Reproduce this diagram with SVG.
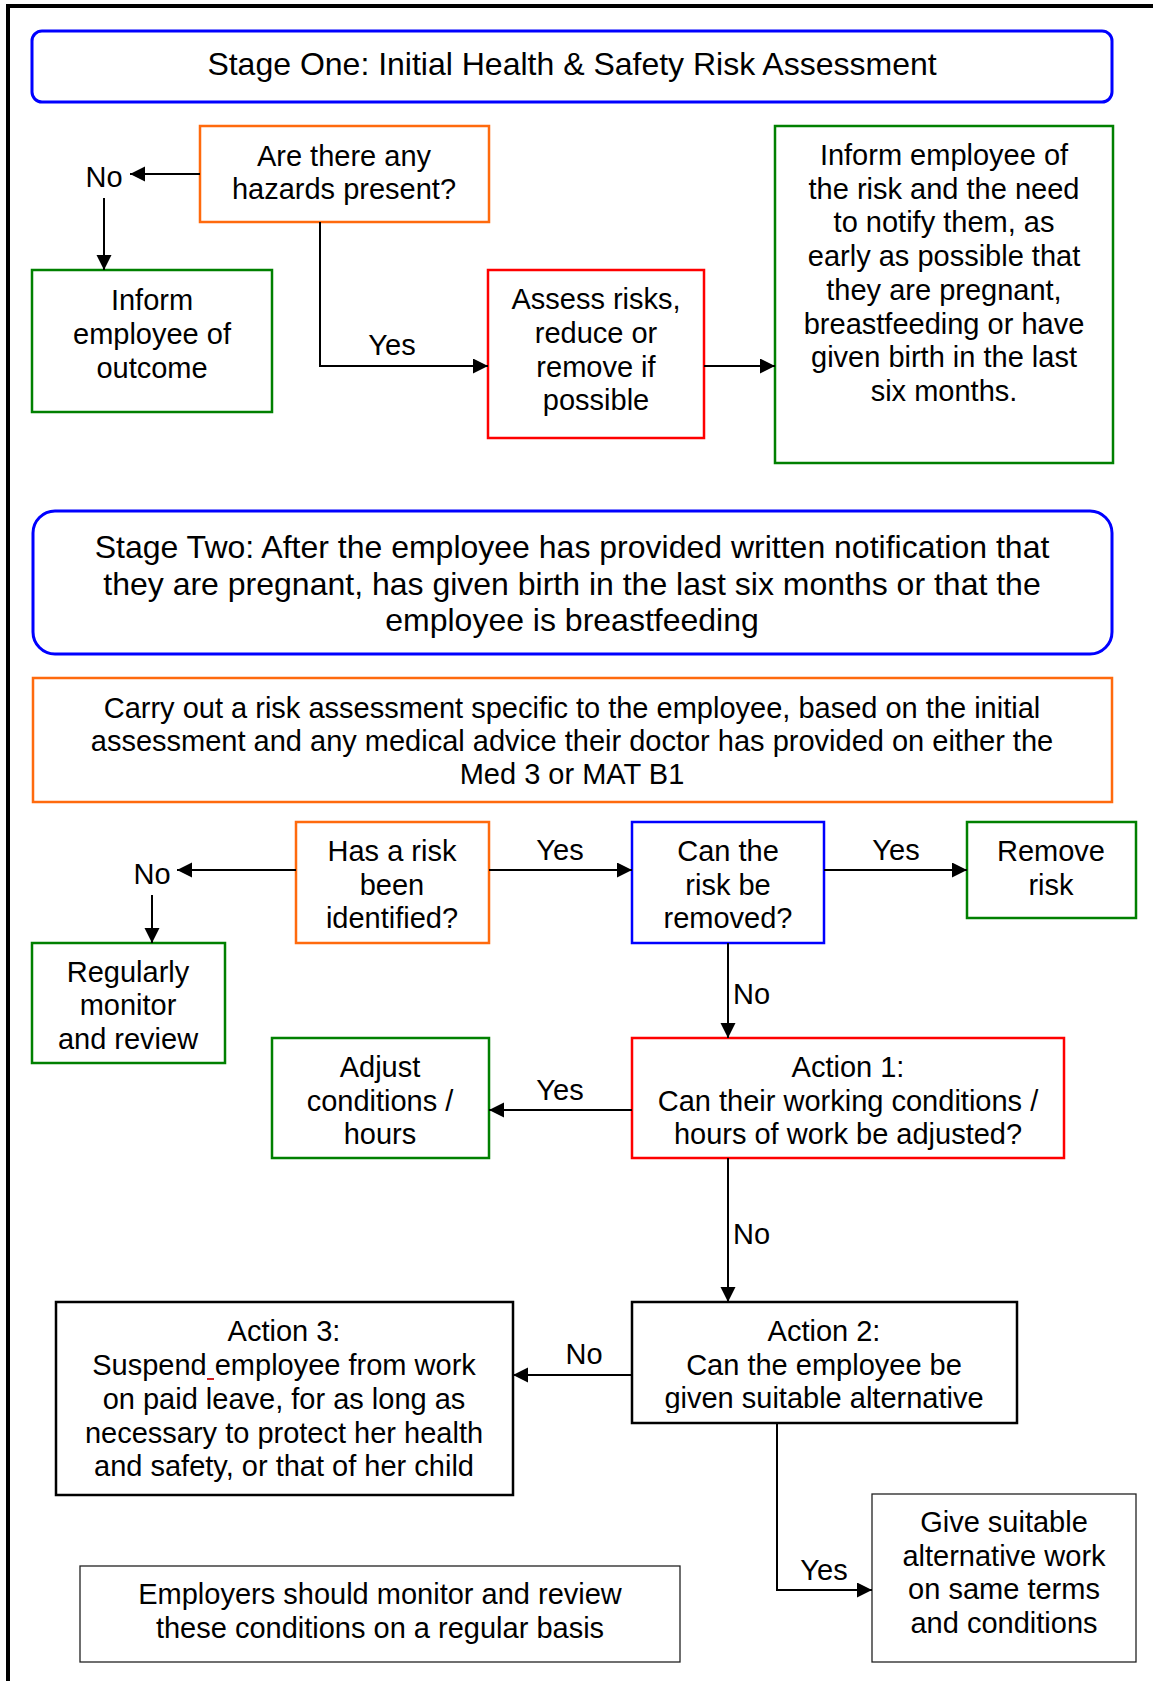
<svg xmlns="http://www.w3.org/2000/svg" width="1153" height="1681" viewBox="0 0 1153 1681">
  <style>
    text { font-family: "Liberation Sans", Arial, sans-serif; fill: #000; }
    .t { font-size: 29px; text-anchor: middle; }
    .h { font-size: 32px; text-anchor: middle; }
    .lbl { font-size: 29px; }
    .mid { text-anchor: middle; }
    .box { fill: #fff; stroke-width: 2.5; }
    .blue { stroke: #0000ff; }
    .orange { stroke: #ff6a0d; }
    .green { stroke: #008000; }
    .red { stroke: #ff0000; }
    .black { stroke: #000; }
    .thin { stroke: #222; stroke-width: 1.3; }
    .stage { fill: #fff; stroke: #0000ff; stroke-width: 3; }
    .conn { fill: none; stroke: #000; stroke-width: 2; marker-end: url(#arrow); }
  </style>
  <defs>
    <marker id="arrow" markerUnits="userSpaceOnUse" markerWidth="16" markerHeight="16" refX="15" refY="7.5" orient="auto">
      <path d="M0,0 L15,7.5 L0,15 Z" fill="#000"/>
    </marker>
    <clipPath id="clipA2">
      <rect x="632" y="1302" width="385" height="111"/>
    </clipPath>
  </defs>

  <rect width="1153" height="1681" fill="#fff"/>

  <!-- page frame (top and left rules) -->
  <path d="M8,1681 V6 H1153" fill="none" stroke="#000" stroke-width="4"/>

  <!-- Stage one -->
  <g id="stage-one">
    <rect class="stage" x="32" y="31" width="1080" height="71" rx="10"/>
    <text class="h" x="572" y="75">Stage One: Initial Health &amp; Safety Risk Assessment</text>
  </g>

  <g id="hazards">
    <rect class="box orange" x="200" y="126" width="289" height="96"/>
    <text class="t" x="344" y="166">Are there any</text>
    <text class="t" x="344" y="199">hazards present?</text>
  </g>

  <g id="inform-outcome">
    <rect class="box green" x="32" y="270" width="240" height="142"/>
    <text class="t" x="152" y="310">Inform</text>
    <text class="t" x="152" y="344">employee of</text>
    <text class="t" x="152" y="378">outcome</text>
  </g>

  <g id="assess">
    <rect class="box red" x="488" y="270" width="216" height="168"/>
    <text class="t" x="596" y="309">Assess risks,</text>
    <text class="t" x="596" y="343">reduce or</text>
    <text class="t" x="596" y="377">remove if</text>
    <text class="t" x="596" y="410">possible</text>
  </g>

  <g id="inform-risk">
    <rect class="box green" x="775" y="126" width="338" height="337"/>
    <text class="t" x="944" y="165">Inform employee of</text>
    <text class="t" x="944" y="199">the risk and the need</text>
    <text class="t" x="944" y="232">to notify them, as</text>
    <text class="t" x="944" y="266">early as possible that</text>
    <text class="t" x="944" y="300">they are pregnant,</text>
    <text class="t" x="944" y="334">breastfeeding or have</text>
    <text class="t" x="944" y="367">given birth in the last</text>
    <text class="t" x="944" y="401">six months.</text>
  </g>

  <!-- Stage two -->
  <g id="stage-two">
    <rect class="stage" x="33" y="511" width="1079" height="143" rx="22"/>
    <text class="h" x="572" y="558">Stage Two: After the employee has provided written notification that</text>
    <text class="h" x="572" y="595">they are pregnant, has given birth in the last six months or that the</text>
    <text class="h" x="572" y="631">employee is breastfeeding</text>
  </g>

  <g id="specific-assessment">
    <rect class="box orange" x="33" y="678" width="1079" height="124"/>
    <text class="t" x="572" y="718">Carry out a risk assessment specific to the employee, based on the initial</text>
    <text class="t" x="572" y="751">assessment and any medical advice their doctor has provided on either the</text>
    <text class="t" x="572" y="784">Med 3 or MAT B1</text>
  </g>

  <g id="risk-identified">
    <rect class="box orange" x="296" y="822" width="193" height="121"/>
    <text class="t" x="392" y="861">Has a risk</text>
    <text class="t" x="392" y="895">been</text>
    <text class="t" x="392" y="928">identified?</text>
  </g>

  <g id="monitor">
    <rect class="box green" x="32" y="943" width="193" height="120"/>
    <text class="t" x="128" y="982">Regularly</text>
    <text class="t" x="128" y="1015">monitor</text>
    <text class="t" x="128" y="1049">and review</text>
  </g>

  <g id="can-remove">
    <rect class="box blue" x="632" y="822" width="192" height="121"/>
    <text class="t" x="728" y="861">Can the</text>
    <text class="t" x="728" y="895">risk be</text>
    <text class="t" x="728" y="928">removed?</text>
  </g>

  <g id="remove-risk">
    <rect class="box green" x="967" y="822" width="169" height="96"/>
    <text class="t" x="1051" y="861">Remove</text>
    <text class="t" x="1051" y="895">risk</text>
  </g>

  <g id="adjust">
    <rect class="box green" x="272" y="1038" width="217" height="120"/>
    <text class="t" x="380" y="1077">Adjust</text>
    <text class="t" x="380" y="1111">conditions /</text>
    <text class="t" x="380" y="1144">hours</text>
  </g>

  <g id="action-1">
    <rect class="box red" x="632" y="1038" width="432" height="120"/>
    <text class="t" x="848" y="1077">Action 1:</text>
    <text class="t" x="848" y="1111">Can their working conditions /</text>
    <text class="t" x="848" y="1144">hours of work be adjusted?</text>
  </g>

  <g id="action-2">
    <rect class="box black" x="632" y="1302" width="385" height="121"/>
    <text class="t" x="824" y="1341">Action 2:</text>
    <text class="t" x="824" y="1375">Can the employee be</text>
    <text class="t" x="824" y="1408" clip-path="url(#clipA2)">given suitable alternative</text>
  </g>

  <g id="action-3">
    <rect class="box black" x="56" y="1302" width="457" height="193"/>
    <text class="t" x="284" y="1341">Action 3:</text>
    <text class="t" x="284" y="1375">Suspend employee from work</text>
    <rect x="207" y="1378" width="7" height="2" fill="#d02020"/>
    <text class="t" x="284" y="1409">on paid leave, for as long as</text>
    <text class="t" x="284" y="1443">necessary to protect her health</text>
    <text class="t" x="284" y="1476">and safety, or that of her child</text>
  </g>

  <g id="alternative-work">
    <rect class="box thin" x="872" y="1494" width="264" height="168"/>
    <text class="t" x="1004" y="1532">Give suitable</text>
    <text class="t" x="1004" y="1566">alternative work</text>
    <text class="t" x="1004" y="1599">on same terms</text>
    <text class="t" x="1004" y="1633">and conditions</text>
  </g>

  <g id="review-note">
    <rect class="box thin" x="80" y="1566" width="600" height="96"/>
    <text class="t" x="380" y="1604">Employers should monitor and review</text>
    <text class="t" x="380" y="1638">these conditions on a regular basis</text>
  </g>

  <!-- connectors and their labels -->
  <g id="connectors">
    <path class="conn" d="M200,174 H130"/>
    <path class="conn" d="M104,198 V270"/>
    <path class="conn" d="M320,222 V366 H488"/>
    <path class="conn" d="M704,366 H775"/>
    <path class="conn" d="M296,870 H177"/>
    <path class="conn" d="M152,895 V943"/>
    <path class="conn" d="M489,870 H632"/>
    <path class="conn" d="M824,870 H967"/>
    <path class="conn" d="M728,943 V1038"/>
    <path class="conn" d="M632,1110 H489"/>
    <path class="conn" d="M728,1158 V1302"/>
    <path class="conn" d="M632,1375 H513"/>
    <path class="conn" d="M777,1423 V1590 H872"/>

    <text class="lbl mid" x="104" y="187">No</text>
    <text class="lbl mid" x="392" y="355">Yes</text>
    <text class="lbl mid" x="152" y="884">No</text>
    <text class="lbl mid" x="560" y="860">Yes</text>
    <text class="lbl mid" x="896" y="860">Yes</text>
    <text class="lbl" x="733" y="1004">No</text>
    <text class="lbl mid" x="560" y="1100">Yes</text>
    <text class="lbl" x="733" y="1244">No</text>
    <text class="lbl mid" x="584" y="1364">No</text>
    <text class="lbl mid" x="824" y="1580">Yes</text>
  </g>
</svg>
